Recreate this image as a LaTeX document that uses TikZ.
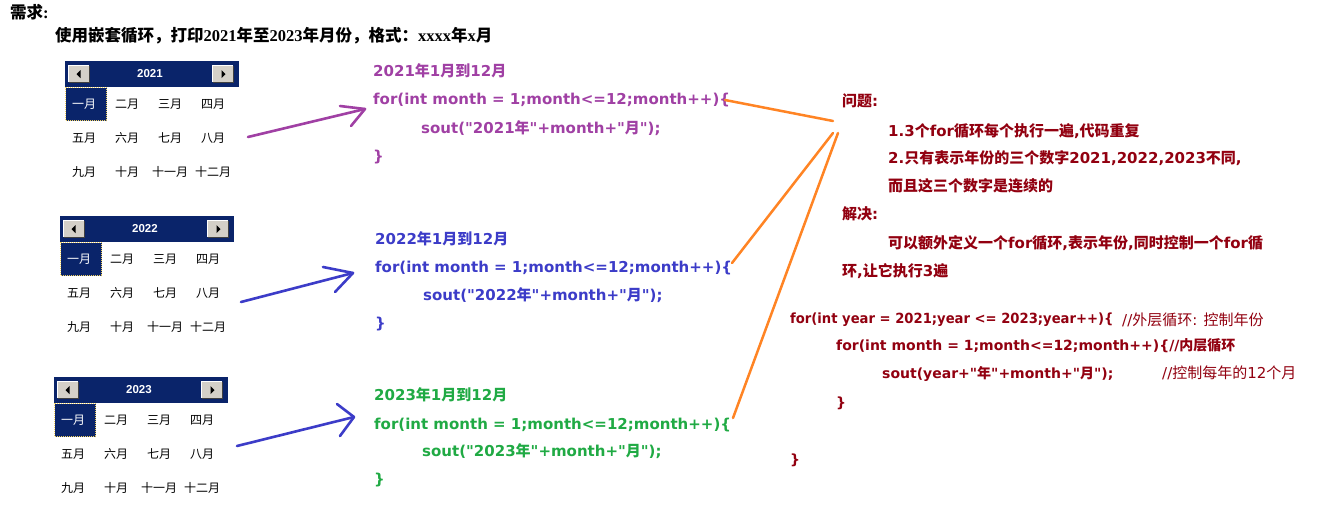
\documentclass[tikz,border=0pt]{standalone}
\usepackage{fontspec}
\usepackage{graphicx}
\setmainfont{DejaVu Sans}
\newfontfamily\cjk{Noto Sans CJK SC}
\newfontfamily\dejavu{DejaVu Sans}
\newfontfamily\serifl{Liberation Serif}
\newfontfamily\arialf{Liberation Sans}
\def\latsel{\dejavu}
\newXeTeXintercharclass\cjkcls
\newcount\cjkc
\cjkc="3000\relax
\loop\ifnum\cjkc<"A000\relax \XeTeXcharclass\cjkc=\cjkcls \advance\cjkc by 1 \repeat
\cjkc="FF00\relax
\loop\ifnum\cjkc<"FFF0\relax \XeTeXcharclass\cjkc=\cjkcls \advance\cjkc by 1 \repeat
\XeTeXinterchartoks 0 \cjkcls = {\cjk}
\XeTeXinterchartoks 4095 \cjkcls = {\cjk}
\XeTeXinterchartoks \cjkcls 0 = {\latsel}
\XeTeXinterchartoks \cjkcls 4095 = {\latsel}
\XeTeXinterchartokenstate=1
\definecolor{navy}{HTML}{0A246A}
\definecolor{btngray}{HTML}{D4D0C8}
\definecolor{dkg}{HTML}{404040}
\definecolor{selyel}{HTML}{F0D060}
\definecolor{cpurple}{HTML}{A040A4}
\definecolor{cblue}{HTML}{3C3CC8}
\definecolor{cgreen}{HTML}{20AA44}
\definecolor{cred}{HTML}{920010}
\definecolor{corange}{HTML}{FF8424}
\tikzset{
  hdr/.style={rectangle,fill=navy,minimum width=174,minimum height=26,inner sep=0},
  btn/.style={rectangle,fill=btngray,minimum width=20,minimum height=16,inner sep=0},
  sel/.style={rectangle,fill=navy,draw=selyel,line width=1pt,dash pattern=on 1pt off 1pt,minimum width=41,minimum height=33,inner sep=0},
  yr/.style={inner sep=0,text=white,font=\arialf\bfseries\fontsize{11.5}{11.5}\selectfont},
  mon/.style={inner sep=0,font=\cjk\fontsize{12}{12}\selectfont},
  code/.style={anchor=base west,inner sep=0,font=\dejavu\bfseries\fontsize{15}{15}\selectfont},
  rcode/.style={anchor=base west,inner sep=0,font=\dejavu\bfseries\fontsize{14}{14}\selectfont},
  cmt/.style={anchor=base west,inner sep=0,font=\dejavu\fontsize{15}{15}\selectfont},
  ttl/.style={anchor=base west,inner sep=0,font=\def\latsel{\serifl}\serifl\bfseries\fontsize{16.5}{16.5}\selectfont},
  arr/.style={line width=2.6pt,line cap=round,line join=round},
  oline/.style={line width=2.5pt,corange,line cap=round}
}
\newcommand\calwidget[4]{%
\begin{scope}[shift={(#2,#3)}]
  \node[hdr] (#1h) at (87,13) {};
  \node[btn] (#1l) at (14,13) {};
  \node[btn] (#1r) at (158,13) {};
  \draw[white,line width=1pt] (#1l.south west) -- (#1l.north west) -- (#1l.north east);
  \draw[dkg,line width=1pt] (#1l.north east) -- (#1l.south east) -- (#1l.south west);
  \draw[white,line width=1pt] (#1r.south west) -- (#1r.north west) -- (#1r.north east);
  \draw[dkg,line width=1pt] (#1r.north east) -- (#1r.south east) -- (#1r.south west);
  \fill[black] ($(#1l.center)+(-2.5,0)$) -- ++(4,-4) -- ++(0,8) -- cycle;
  \fill[black] ($(#1r.center)+(2.5,0)$) -- ++(-4,-4) -- ++(0,8) -- cycle;
  \node[yr] (#1y) at (85,13) {#4};
  \node[sel] (#1s) at (21,43) {};
  \node[mon,text=white] (#1m0) at (19,43) {一月};
  \node[mon] (#1m1) at (62,43) {二月};
  \node[mon] (#1m2) at (105,43) {三月};
  \node[mon] (#1m3) at (148,43) {四月};
  \node[mon] (#1m4) at (19,77) {五月};
  \node[mon] (#1m5) at (62,77) {六月};
  \node[mon] (#1m6) at (105,77) {七月};
  \node[mon] (#1m7) at (148,77) {八月};
  \node[mon] (#1m8) at (19,111) {九月};
  \node[mon] (#1m9) at (62,111) {十月};
  \node[mon] (#1m10) at (105,111) {十一月};
  \node[mon] (#1m11) at (148,111) {十二月};
\end{scope}}
\usetikzlibrary{calc}
\begin{document}
\begin{tikzpicture}[x=1pt,y=-1pt]
\useasboundingbox (0,0) rectangle (1326,517);
\fill[white] (0,0) rectangle (1326,517);
% title
\node[ttl] (title) at (10,18.5) {需求:};
\node[ttl] (task) at (55,41.5) {使用嵌套循环，打印2021年至2023年月份，格式：xxxx年x月};
% calendars
\calwidget{ca}{65}{61}{2021}
\calwidget{cb}{60}{216}{2022}
\calwidget{cc}{54}{377}{2023}
% code block 1
\begin{scope}[text=cpurple]
\node[code] (p1) at (373,76) {2021年1月到12月};
\node[code] (p2) at (373,104) {for(int month = 1;month<=12;month++)\{};
\node[code] (p3) at (421,133) {sout("2021年"+month+"月");};
\node[code] (p4) at (373,161) {\}};
\end{scope}
\begin{scope}[text=cblue]
\node[code] (q1) at (375,244) {2022年1月到12月};
\node[code] (q2) at (375,272) {for(int month = 1;month<=12;month++)\{};
\node[code] (q3) at (423,300) {sout("2022年"+month+"月");};
\node[code] (q4) at (375,328) {\}};
\end{scope}
\begin{scope}[text=cgreen]
\node[code] (g1) at (374,400) {2023年1月到12月};
\node[code] (g2) at (374,429) {for(int month = 1;month<=12;month++)\{};
\node[code] (g3) at (422,456) {sout("2023年"+month+"月");};
\node[code] (g4) at (374,484) {\}};
\end{scope}
% right side
\begin{scope}[text=cred]
\node[code] (r1) at (842,106) {问题:};
\node[code] (r2) at (888,136) {1.3个for循环每个执行一遍,代码重复};
\node[code] (r3) at (888,163) {2.只有表示年份的三个数字2021,2022,2023不同,};
\node[code] (r4) at (888,191) {而且这三个数字是连续的};
\node[code] (r5) at (842,219) {解决:};
\node[code] (r6) at (888,248) {可以额外定义一个for循环,表示年份,同时控制一个for循};
\node[code] (r7) at (842,276) {环,让它执行3遍};
\node[rcode] (k1) at (790,323) {\scalebox{0.94}[1]{for(int year = 2021;year <= 2023;year++)\{}};
\node[cmt] (k1c) at (1122,325) {//外层循环: 控制年份};
\node[rcode] (k2) at (836,350) {for(int month = 1;month<=12;month++)\{//内层循环};
\node[rcode] (k3) at (882,378) {sout(year+"年"+month+"月");};
\node[cmt] (k3c) at (1162,378) {//控制每年的12个月};
\node[rcode] (k4) at (836,407) {\}};
\node[rcode] (k5) at (790,464) {\}};
\end{scope}
% arrows
\coordinate (a1s) at (248,137); \coordinate (a1e) at (365,109);
\coordinate (a1u) at (340,106); \coordinate (a1l) at (351,126);
\draw[arr,cpurple] (a1s) -- (a1e);
\draw[arr,cpurple] (a1u) -- (a1e) -- (a1l);
\coordinate (a2s) at (241,302); \coordinate (a2e) at (353,273);
\coordinate (a2u) at (323,267); \coordinate (a2l) at (335,292);
\draw[arr,cblue] (a2s) -- (a2e);
\draw[arr,cblue] (a2u) -- (a2e) -- (a2l);
\coordinate (a3s) at (237,446); \coordinate (a3e) at (354,417);
\coordinate (a3u) at (337,404); \coordinate (a3l) at (340,436);
\draw[arr,cblue] (a3s) -- (a3e);
\draw[arr,cblue] (a3u) -- (a3e) -- (a3l);
% orange lines
\coordinate (o1s) at (725,100); \coordinate (o1e) at (833,121);
\coordinate (o2s) at (732,263); \coordinate (o2e) at (833,133);
\coordinate (o3s) at (733,418); \coordinate (o3e) at (838,133);
\draw[oline] (o1s) -- (o1e);
\draw[oline] (o2s) -- (o2e);
\draw[oline] (o3s) -- (o3e);
\end{tikzpicture}
\end{document}
